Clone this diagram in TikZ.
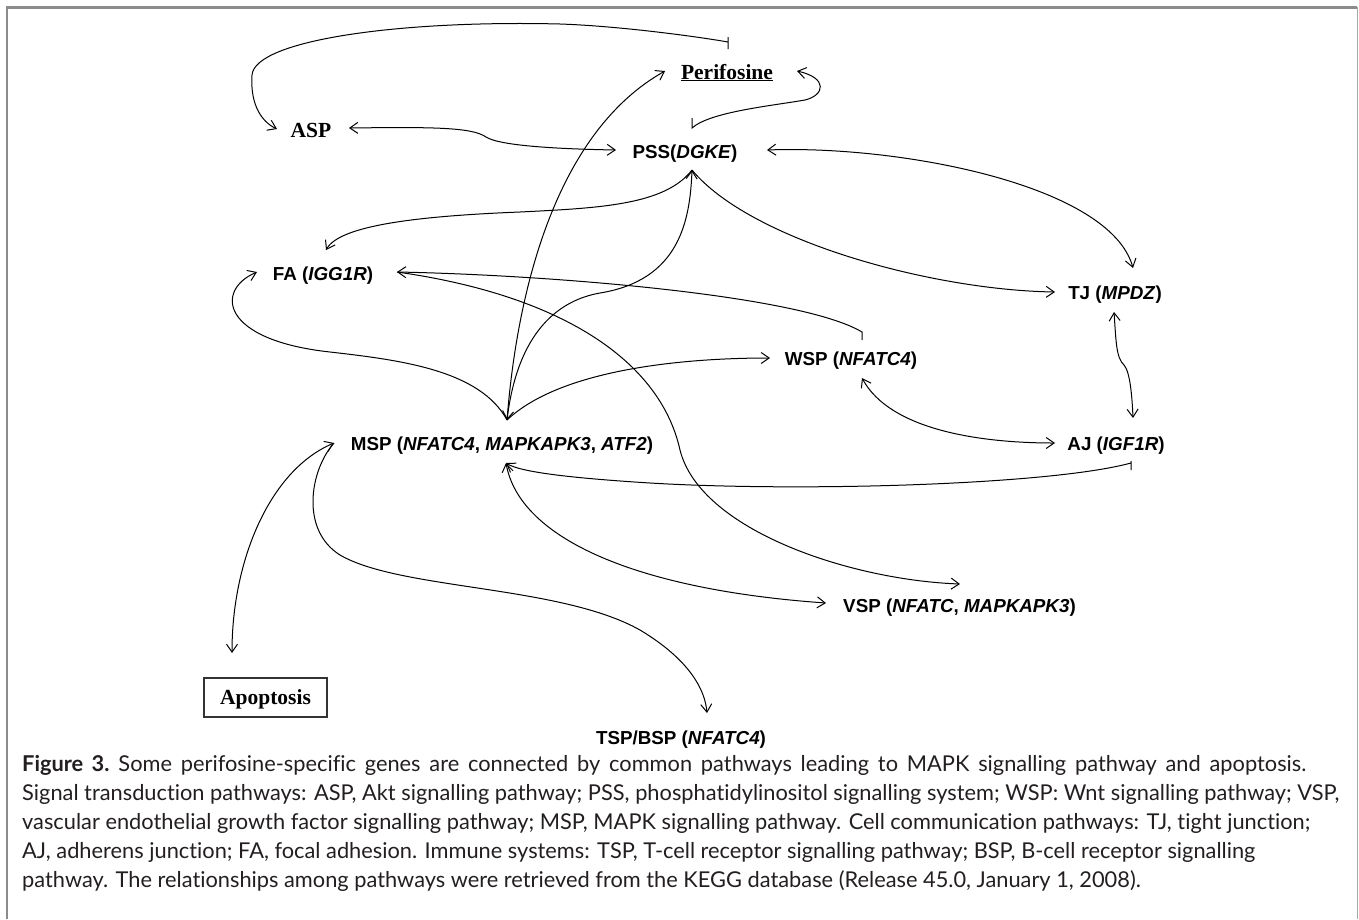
\documentclass[tikz,border=0pt]{standalone}
\usepackage{fontspec}
\setmainfont{Liberation Serif}
\newfontfamily\arialf{Liberation Sans}
\newfontfamily\timesf{Liberation Serif}
\newfontfamily\capf[Ligatures=NoCommon]{Lato}
\usetikzlibrary{arrows.meta,calc}
\definecolor{framegray}{HTML}{8C8C8C}
\definecolor{framelight}{HTML}{A8A8A8}
\definecolor{captext}{HTML}{231F20}
\begin{document}
\begin{tikzpicture}[x=1pt,y=-1pt,
  lbl/.style={font=\arialf\bfseries\fontsize{18.8}{22}\selectfont, inner sep=0pt, anchor=base},
  tlbl/.style={font=\timesf\bfseries\fontsize{21.5}{24}\selectfont, inner sep=0pt, anchor=base},
  captxt/.style={font=\capf\fontsize{21.8}{29}\selectfont, text=captext, inner sep=0pt, anchor=base west},
  conn/.style={line width=1pt, black},
  ar/.style={conn, -{Straight Barb[length=8pt,width=11pt]}},
  arb/.style={conn, {Straight Barb[length=8pt,width=11pt]}-{Straight Barb[length=8pt,width=11pt]}}
]
\useasboundingbox (0,0) rectangle (1359,919);
\fill[white] (0,0) rectangle (1359,919);
% frame
\draw[framegray, line width=2.6pt] (7,919) -- (7,7.3) -- (1357,7.3);
\draw[framelight, line width=1.2pt] (1357.5,7.3) -- (1357.5,919);

% nodes
\node[tlbl] (peri) at (727,79) {\underline{Perifosine}};
\node[tlbl] (asp) at (311,137) {ASP};
\node[lbl] (pss) at (685,158) {PSS(\textit{DGKE})};
\node[lbl] (fa) at (323,280) {FA (\textit{IGG1R})};
\node[lbl] (tj) at (1115,299) {TJ (\textit{MPDZ})};
\node[lbl] (wsp) at (851,365) {WSP (\textit{NFATC4})};
\node[lbl] (aj) at (1116,450) {AJ (\textit{IGF1R})};
\node[lbl] (msp) at (502,450) {MSP (\textit{NFATC4}, \textit{MAPKAPK3}, \textit{ATF2})};
\node[lbl] (vsp) at (959.5,612) {VSP (\textit{NFATC}, \textit{MAPKAPK3})};
\node[lbl] (tsp) at (681,744) {TSP/BSP (\textit{NFATC4})};
\node[draw=black!80, line width=1.4pt, minimum width=123pt, minimum height=39pt,
      font=\timesf\bfseries\fontsize{21.5}{24}\selectfont, text depth=0pt, inner sep=0pt] (apo) at (265.5,697.5) {Apoptosis};

% ports
\coordinate (periTk) at ([shift={(1,-37)}]peri.base);
\coordinate (aspL) at ([shift={(-34,-8)}]asp.base);
\coordinate (pssTk) at ([shift={(7,-30)}]pss.base);
\coordinate (periR) at ([shift={(70,-8)}]peri.base);
\coordinate (aspR) at ([shift={(38,-9)}]asp.base);
\coordinate (pssL) at ([shift={(-69,-8)}]pss.base);
\coordinate (mspT) at ([shift={(5,-30)}]msp.base);
\coordinate (periL) at ([shift={(-62,-8)}]peri.base);
\coordinate (pssR) at ([shift={(82,-8)}]pss.base);
\coordinate (tjT) at ([shift={(18,-31)}]tj.base);
\coordinate (pssB) at ([shift={(7,12)}]pss.base);
\coordinate (tjL) at ([shift={(-60,-7)}]tj.base);
\coordinate (faT) at ([shift={(3,-30)}]fa.base);
\coordinate (faL) at ([shift={(-66,-8)}]fa.base);
\coordinate (faR) at ([shift={(74,-8)}]fa.base);
\coordinate (wspTk) at ([shift={(11,-33)}]wsp.base);
\coordinate (vspT) at ([shift={(0.5,-28)}]vsp.base);
\coordinate (wspL) at ([shift={(-81,-7)}]wsp.base);
\coordinate (wspB) at ([shift={(11,13)}]wsp.base);
\coordinate (ajL) at ([shift={(-61,-7)}]aj.base);
\coordinate (tjB) at ([shift={(-1,13)}]tj.base);
\coordinate (ajT) at ([shift={(17,-32)}]aj.base);
\coordinate (ajTk) at ([shift={(15,13)}]aj.base);
\coordinate (mspB) at ([shift={(4,13)}]msp.base);
\coordinate (vspL) at ([shift={(-133.5,-9)}]vsp.base);
\coordinate (mspL) at ([shift={(-168,-7)}]msp.base);
\coordinate (apoT) at ([shift={(-33.5,-44.5)}]apo.center);
\coordinate (tspT) at ([shift={(26,-31)}]tsp.base);

% connectors
\draw[ar] ([shift={(0,7)}]periTk) -- ([shift={(0,-5)}]periTk) -- (periTk) .. controls (700,37) and (620,26) .. (560,24)
   .. controls (400,20) and (255,40) .. (252,75) .. controls (250,105) and (262,122) .. (aspL);
\draw[ar] ([shift={(0,-10)}]pssTk) -- (pssTk) .. controls (710,112) and (770,106) .. (805,100)
   .. controls (825,95) and (828,78) .. (periR);
\draw[arb] (aspR) .. controls (430,127) and (472,127) .. (486,137) .. controls (500,146) and (560,149) .. (pssL);
\draw[ar] (mspT) .. controls (518,280) and (560,130) .. (periL);
\draw[arb] (pssR) .. controls (900,145) and (1110,185) .. (tjT);
\draw[ar] (pssB) .. controls (750,240) and (930,290) .. (tjL);
\draw[ar] (pssB) .. controls (665,205) and (600,208) .. (520,212) .. controls (420,216) and (340,225) .. (faT);
\draw[arb] (mspT) .. controls (518,330) and (560,300) .. (600,293) .. controls (680,280) and (690,220) .. (pssB);
\draw[ar] (mspT) .. controls (480,370) and (400,360) .. (330,352) .. controls (220,340) and (215,290) .. (faL);
\draw[ar] ([shift={(0,8)}]wspTk) -- (wspTk) .. controls (800,295) and (550,275) .. (faR);
\draw[ar] (faR) .. controls (560,295) and (660,360) .. (680,450) .. controls (700,530) and (850,580) .. (vspT);
\draw[ar] (mspT) .. controls (560,370) and (680,358) .. (wspL);
\draw[arb] (wspB) .. controls (890,430) and (980,443) .. (ajL);
\draw[arb] (tjB) .. controls (1116,340) and (1116,358) .. (1124,365) .. controls (1130,372) and (1132,395) .. (ajT);
\draw[ar] ([shift={(0,7)}]ajTk) -- ([shift={(0,-2)}]ajTk) -- (ajTk) .. controls (1050,485) and (800,492) .. (650,483)
   .. controls (570,478) and (520,472) .. (mspB);
\draw[arb] (mspB) .. controls (520,540) and (640,590) .. (vspL);
\draw[arb] (mspL) .. controls (270,470) and (232,560) .. (apoT);
\draw[ar] (mspL) .. controls (310,470) and (300,530) .. (340,555) .. controls (400,590) and (560,585) .. (640,630)
   .. controls (690,660) and (705,690) .. (tspT);

% caption
\node[captxt] (cap1) at (22,771) {\makebox[1284pt][s]{\textbf{Figure 3.}\hspace{9pt}Some perifosine-specific genes are connected by common pathways leading to MAPK signalling pathway and apoptosis.}};
\node[captxt] (cap2) at (22,800) {Signal transduction pathways: ASP, Akt signalling pathway; PSS, phosphatidylinositol signalling system; WSP: Wnt signalling pathway; VSP,};
\node[captxt] (cap3) at (22,829) {vascular endothelial growth factor signalling pathway; MSP, MAPK signalling pathway. Cell communication pathways: TJ, tight junction;};
\node[captxt] (cap4) at (22,858) {AJ, adherens junction; FA, focal adhesion. Immune systems: TSP, T-cell receptor signalling pathway; BSP, B-cell receptor signalling};
\node[captxt] (cap5) at (22,887) {pathway. The relationships among pathways were retrieved from the KEGG database (Release 45.0, January 1, 2008).};
\end{tikzpicture}
\end{document}
